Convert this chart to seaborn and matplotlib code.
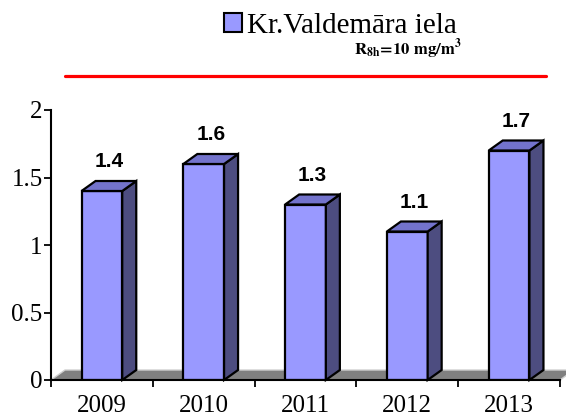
import pandas as pd
import seaborn as sns
import matplotlib.pyplot as plt
from matplotlib.patches import Polygon, Patch
from matplotlib.lines import Line2D

# === Data ===
years = ["2009", "2010", "2011", "2012", "2013"]
values = [1.4, 1.6, 1.3, 1.1, 1.7]
labels = ["1.4", "1.6", "1.3", "1.1", "1.7"]
series_name = "Kr.Valdemāra iela"
limit_text = r"$\mathbf{R_{8h}\!=\!10\ mg/m^{3}}$"

df = pd.DataFrame({"year": years, "value": values})

sns.set_style("white")
plt.rcParams["mathtext.fontset"] = "stix"
plt.rcParams["text.color"] = "black"
plt.rcParams["xtick.color"] = "black"
plt.rcParams["ytick.color"] = "black"

fig = plt.figure(figsize=(5.66, 4.16), dpi=100)
W, H = 566, 416
ax = fig.add_axes([51 / W, 1 - 380 / H, (560 - 51) / W, (380 - 110) / H])

front = "#9999FF"
side = "#4D4D80"
top = "#7373CC"

sns.barplot(data=df, x="year", y="value", color=front, width=0.4,
            edgecolor="black", linewidth=1.6, saturation=1, ax=ax, zorder=3)

ax.set_xlim(-0.5, 4.5)
ax.set_ylim(0, 2)

# pixel depth of the 3D effect converted to data units
dx = 14 / ((560 - 51) / 5)
dy = 10 / ((380 - 110) / 2)

# floor
floor = Polygon([(-0.5, 0), (4.5, 0), (4.5 + dx, dy), (-0.5 + dx, dy)],
                closed=True, facecolor="#808080", edgecolor="#D0D0D0",
                linewidth=1, zorder=1, clip_on=False)
ax.add_patch(floor)

# side and top faces from the bars seaborn drew
for bar in list(ax.patches):
    if bar is floor:
        continue
    x0 = bar.get_x()
    w = bar.get_width()
    h = bar.get_height()
    x1 = x0 + w
    ax.add_patch(Polygon([(x1, 0), (x1 + dx, dy), (x1 + dx, h + dy), (x1, h)],
                         closed=True, facecolor=side, edgecolor="black",
                         linewidth=1.6, zorder=3, clip_on=False))
    ax.add_patch(Polygon([(x0, h), (x1, h), (x1 + dx, h + dy), (x0 + dx, h + dy)],
                         closed=True, facecolor=top, edgecolor="black",
                         linewidth=1.6, zorder=3, clip_on=False))

# value labels
for i, (v, lab) in enumerate(zip(values, labels)):
    ax.annotate(lab, (i + dx / 2, v), xytext=(0, 21), textcoords="offset points",
                ha="center", va="center", fontsize=15, fontweight="bold",
                family="Liberation Sans", color="black", zorder=5,
                annotation_clip=False)

# axes styling
sns.despine(ax=ax, top=True, right=True)
ax.spines["left"].set_color("black")
ax.spines["bottom"].set_color("black")
ax.spines["left"].set_linewidth(1.5)
ax.spines["bottom"].set_linewidth(1.5)
ax.spines["bottom"].set_zorder(4)

ax.set_yticks([0, 0.5, 1, 1.5, 2])
ax.set_yticklabels(["0", "0.5", "1", "1.5", "2"], family="Liberation Serif", fontsize=18)
ax.tick_params(axis="y", direction="out", length=5, width=1.3, color="black",
               labelcolor="black", pad=1, left=True)
ax.set_xticks(range(len(years)))
ax.set_xticklabels(years, family="Liberation Serif", fontsize=18)
ax.set_xticks([i - 0.5 for i in range(len(years) + 1)], minor=True)
ax.tick_params(axis="x", which="major", length=0, pad=11, labelcolor="black")
ax.tick_params(axis="x", which="minor", direction="out", length=5, width=1.3,
               color="black", bottom=True)
ax.set_xlabel("")
ax.set_ylabel("")
ax.grid(False)

# legend
handle = Patch(facecolor=front, edgecolor="black", linewidth=1.5)
leg = fig.legend(handles=[handle], labels=[series_name], loc="center left",
                 bbox_to_anchor=(224 / W, 1 - 26 / H), frameon=False,
                 prop={"family": "Liberation Serif", "size": 21},
                 handlelength=0.6, handleheight=0.6, handletextpad=0.2,
                 borderpad=0, borderaxespad=0)
for t in leg.get_texts():
    t.set_color("black")

fig.text(462 / W, 1 - 49 / H, limit_text, ha="right", va="center", fontsize=12,
         color="black")

fig.add_artist(Line2D([65 / W, 546 / W], [1 - 76 / H, 1 - 76 / H],
                      color="red", linewidth=2.3, transform=fig.transFigure))

fig.savefig("out.png", dpi=100)
plt.close(fig)
